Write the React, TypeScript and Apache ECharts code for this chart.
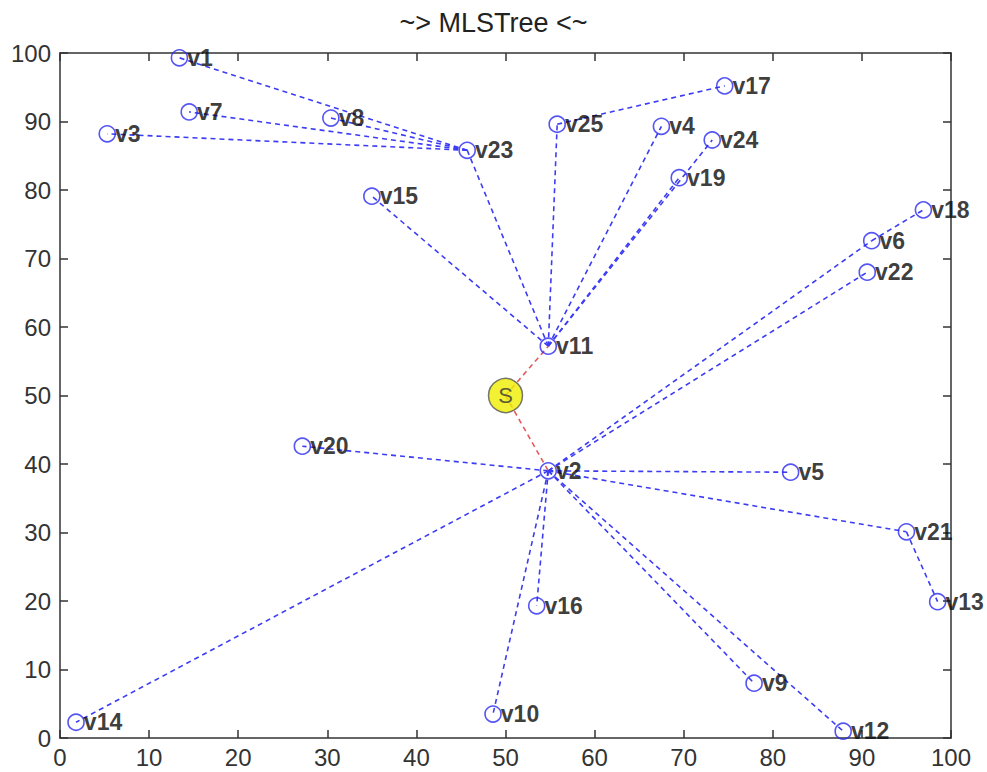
import React, { useEffect, useRef } from 'react';
import * as echarts from 'echarts';

const titleText = '~> MLSTree <~';
const nodeNames = ['v1','v2','v3','v4','v5','v6','v7','v8','v9','v10','v11','v12','v13','v14','v15','v16','v17','v18','v19','v20','v21','v22','v23','v24','v25'];
const nodeX = [13.4, 54.8, 5.3, 67.5, 82.0, 91.1, 14.5, 30.4, 77.9, 48.6, 54.8, 87.9, 98.5, 1.8, 35.0, 53.5, 74.6, 96.9, 69.5, 27.2, 95.0, 90.6, 45.7, 73.2, 55.8];
const nodeY = [99.3, 39.0, 88.2, 89.3, 38.8, 72.6, 91.4, 90.5, 8.0, 3.5, 57.2, 1.0, 19.9, 2.3, 79.1, 19.3, 95.2, 77.1, 81.8, 42.6, 30.1, 68.0, 85.8, 87.3, 89.6];
const sinkName = 'S';
const sinkX = 50;
const sinkY = 50;
const blueEdgeFrom = ['v11','v11','v11','v11','v11','v11','v23','v23','v23','v23','v25','v2','v2','v2','v2','v21','v2','v2','v2','v2','v2','v6','v2'];
const blueEdgeTo   = ['v15','v23','v25','v4','v19','v24','v1','v8','v7','v3','v17','v20','v14','v5','v21','v13','v16','v10','v9','v12','v6','v18','v22'];
const redEdgeFrom = ['S','S'];
const redEdgeTo = ['v11','v2'];
const xTicks = { min: 0, max: 100, interval: 10 };
const yTicks = { min: 0, max: 100, interval: 10 };

function coordOf(name: string): [number, number] {
  if (name === sinkName) return [sinkX, sinkY];
  const i = nodeNames.indexOf(name);
  return [nodeX[i], nodeY[i]];
}

const FONT = '"Liberation Sans", Arial, sans-serif';

function axisLine() {
  return { show: true, onZero: false, lineStyle: { color: '#333', width: 1.5 } };
}
function tick() {
  return { show: true, inside: true, length: 8, lineStyle: { color: '#333', width: 1.5 } };
}

export default function App() {
  const ref = useRef<HTMLDivElement>(null);
  useEffect(() => {
    document.body.style.margin = '0';
    if (!ref.current) return;
    const chart = echarts.init(ref.current, undefined, { renderer: 'svg' });
    chart.setOption({
      animation: false,
      backgroundColor: '#fff',
      title: {
        text: titleText,
        left: 'center',
        top: 4,
        textStyle: { fontSize: 27, fontWeight: 'normal', color: '#222', fontFamily: FONT },
      },
      grid: { left: 60, right: 36, top: 53, bottom: 34, containLabel: false },
      xAxis: [
        {
          type: 'value', position: 'bottom', ...xTicks,
          axisLine: axisLine(), axisTick: tick(), splitLine: { show: false },
          axisLabel: { fontSize: 24, color: '#333', margin: 7, fontFamily: FONT },
        },
        {
          type: 'value', position: 'top', ...xTicks,
          axisLine: axisLine(), axisTick: tick(), splitLine: { show: false }, axisLabel: { show: false },
        },
      ],
      yAxis: [
        {
          type: 'value', position: 'left', ...yTicks,
          axisLine: axisLine(), axisTick: tick(), splitLine: { show: false },
          axisLabel: { fontSize: 24, color: '#333', margin: 9, fontFamily: FONT },
        },
        {
          type: 'value', position: 'right', ...yTicks,
          axisLine: axisLine(), axisTick: tick(), splitLine: { show: false }, axisLabel: { show: false },
        },
      ],
      series: [
        {
          type: 'lines',
          coordinateSystem: 'cartesian2d',
          xAxisIndex: 0, yAxisIndex: 0,
          z: 1,
          lineStyle: { color: '#3c3cf5', width: 1.6, type: [5, 4], opacity: 1 },
          data: blueEdgeFrom.map((f, i) => ({ coords: [coordOf(f), coordOf(blueEdgeTo[i])] })),
        },
        {
          type: 'lines',
          coordinateSystem: 'cartesian2d',
          xAxisIndex: 0, yAxisIndex: 0,
          z: 1,
          lineStyle: { color: '#e55a5a', width: 1.6, type: [5, 4], opacity: 1 },
          data: redEdgeFrom.map((f, i) => ({ coords: [coordOf(f), coordOf(redEdgeTo[i])] })),
        },
        {
          type: 'scatter',
          xAxisIndex: 0, yAxisIndex: 0,
          z: 3,
          symbol: 'circle',
          symbolSize: 16,
          itemStyle: { color: 'rgba(255,255,255,0)', borderColor: '#2a2af0', borderWidth: 1.6 },
          label: {
            show: true, position: 'right', distance: -1,
            formatter: (p: any) => p.data[2],
            fontSize: 23, fontWeight: 'bold', color: '#0a0a0a', fontFamily: FONT,
          },
          data: nodeNames.map((n, i) => [nodeX[i], nodeY[i], n]),
        },
        {
          type: 'scatter',
          xAxisIndex: 0, yAxisIndex: 0,
          z: 4,
          symbol: 'circle',
          symbolSize: 34,
          itemStyle: { color: '#f0ee00', borderColor: '#555', borderWidth: 1.5 },
          label: {
            show: true, position: 'inside',
            formatter: () => sinkName,
            fontSize: 22, color: '#333', fontFamily: FONT,
          },
          data: [[sinkX, sinkY]],
        },
      ],
    });
    return () => chart.dispose();
  }, []);
  return <div ref={ref} style={{ width: 987, height: 772 }} />;
}
